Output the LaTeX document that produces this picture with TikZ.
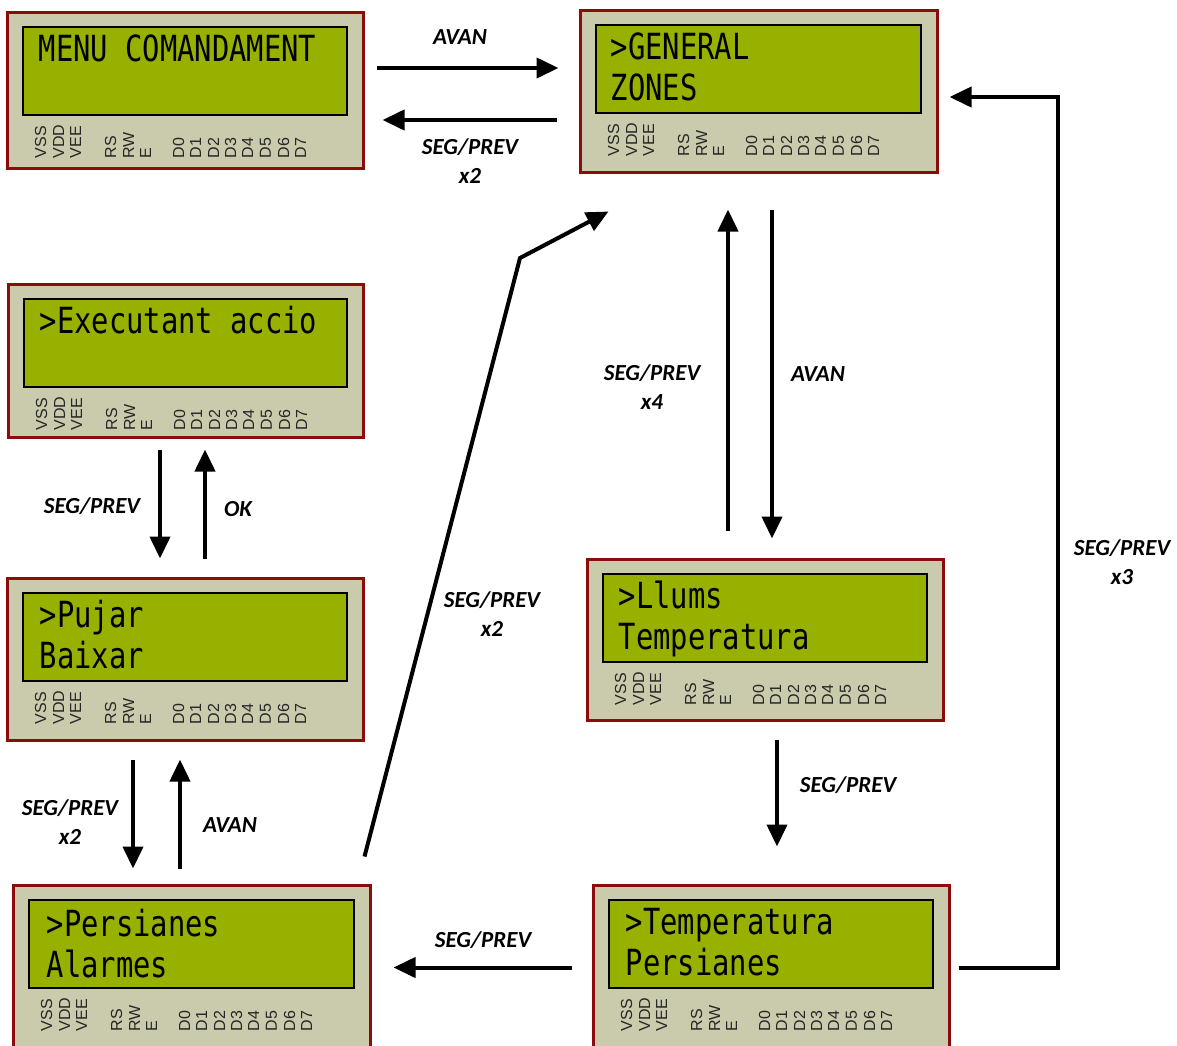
\documentclass[tikz,border=0pt]{standalone}
\usepackage{fontspec}
\setmainfont{Carlito}
\newfontfamily\lcdfont{DejaVu Sans Mono}[FakeStretch=0.8]
\newfontfamily\pinfont{Liberation Sans}
\usetikzlibrary{arrows.meta,calc}

\definecolor{lcdred}{RGB}{140,12,12}
\definecolor{lcdgray}{RGB}{202,202,172}
\definecolor{lcdgreen}{RGB}{152,176,0}

\tikzset{
  lcd/.style={draw=lcdred, line width=3pt, fill=lcdgray, rectangle, inner sep=0pt,
    minimum width=356pt, minimum height=#1},
  lcd/.default=160pt,
  lcdscreen/.style={draw=black, line width=2pt, fill=lcdgreen},
  lcdtext/.style={anchor=base west, inner sep=0pt, font=\lcdfont\fontsize{36}{36}\selectfont},
  pinlbl/.style={anchor=west, rotate=90, inner sep=0pt, text=black!85,
    font=\pinfont\fontsize{16}{16}\selectfont},
  arr/.style={line width=4pt, -{Triangle[length=22pt,width=20pt]}},
  lbl/.style={font=\bfseries\itshape\fontsize{23}{29}\selectfont, align=center, inner sep=0pt}
}

\begin{document}
\begin{tikzpicture}[x=1pt,y=-1pt]
  \clip (0,0) rectangle (1177,1045);

  % displays
  \node[lcd=156pt] (menu) at (185,90) {};
  \node[lcd=162pt, minimum width=357pt] (general) at (758.5,91) {};
  \node[lcd=153pt, minimum width=355pt] (exec) at (185.5,360.5) {};
  \node[lcd=162pt] (pujar) at (185,659) {};
  \node[lcd=161pt] (llums) at (765,639.5) {};
  \node[lcd=165pt, minimum width=357pt] (pers) at (191.5,967.5) {};
  \node[lcd=165pt] (temp) at (771,967.5) {};

  \foreach \p in {menu,general,exec,pujar,llums,pers,temp} {
    \draw[lcdscreen] ($(\p.north west)+(17,16)$) rectangle ($(\p.north east)+(-18,104)$);
    \foreach \x/\t in {35/VSS,53/VDD,70/VEE,105/RS,123/RW,140/E,173/D0,190/D1,
                       208/D2,225/D3,242/D4,260/D5,278/D6,295/D7}
      \node[pinlbl] (\p-\t) at ($(\p.north west)+(\x,148)$) {\t};
  }

  % screen texts
  \node[lcdtext] (menu-l1) at ($(menu.north west)+(33,51)$) {MENU COMANDAMENT};
  \node[lcdtext] (general-l1) at ($(general.north west)+(32,51)$) {>GENERAL};
  \node[lcdtext] (general-l2) at ($(general.north west)+(32,92)$) {ZONES};
  \node[lcdtext] (exec-l1) at ($(exec.north west)+(33,51)$) {>Executant accio};
  \node[lcdtext] (pujar-l1) at ($(pujar.north west)+(34,51)$) {>Pujar};
  \node[lcdtext] (pujar-l2) at ($(pujar.north west)+(34,92)$) {Baixar};
  \node[lcdtext] (llums-l1) at ($(llums.north west)+(33,51)$) {>Llums};
  \node[lcdtext] (llums-l2) at ($(llums.north west)+(33,92)$) {Temperatura};
  \node[lcdtext] (pers-l1) at ($(pers.north west)+(35,53)$) {>Persianes};
  \node[lcdtext] (pers-l2) at ($(pers.north west)+(35,94)$) {Alarmes};
  \node[lcdtext] (temp-l1) at ($(temp.north west)+(34,51)$) {>Temperatura};
  \node[lcdtext] (temp-l2) at ($(temp.north west)+(34,92)$) {Persianes};

  % transitions
  \coordinate (bend) at (520,258);
  \coordinate (rtop) at (1058,97);

  \draw[arr] ($(menu.east)+(12,-22)$) -- ($(general.west)+(-20,-23)$);
  \draw[arr] ($(general.west)+(-22,29)$) -- ($(menu.east)+(18,30)$);
  \draw[arr] ($(pers.north east)+(-7,-27)$) -- (bend) -- ($(general.south west)+(30,38)$);
  \draw[arr] ($(general.south)+(13.5,36)$) -- ($(llums.north)+(7,-19)$);
  \draw[arr] ($(llums.north)+(-37,-27)$) -- ($(general.south)+(-30.5,36)$);
  \draw[arr] ($(llums.south)+(12,18)$) -- ($(temp.north)+(6,-37)$);
  \draw[arr] ($(temp.west)+(-20,0)$) -- ($(pers.east)+(22,0)$);
  \draw[arr] ($(temp.east)+(8,0)$) -| (rtop) -- ($(general.east)+(11,6)$);
  \draw[arr] ($(exec.south)+(-25.5,11)$) -- ($(pujar.north)+(-25,-18)$);
  \draw[arr] ($(pujar.north)+(20,-18)$) -- ($(exec.south)+(19.5,11)$);
  \draw[arr] ($(pujar.south)+(-52,18)$) -- ($(pers.north)+(-58.5,-15)$);
  \draw[arr] ($(pers.north)+(-11.5,-15)$) -- ($(pujar.south)+(-5,18)$);

  % labels
  \node[lbl] (avan1) at (460,37) {AVAN};
  \node[lbl] (seg1) at (470,161) {SEG/PREV\\x2};
  \node[lbl] (seg2) at (492,614) {SEG/PREV\\x2};
  \node[lbl] (seg3) at (652,387) {SEG/PREV\\x4};
  \node[lbl] (avan2) at (818,374) {AVAN};
  \node[lbl] (seg4) at (848,785) {SEG/PREV};
  \node[lbl] (seg5) at (483,940) {SEG/PREV};
  \node[lbl] (seg6) at (1122,562) {SEG/PREV\\x3};
  \node[lbl] (seg7) at (92,506) {SEG/PREV};
  \node[lbl] (ok) at (238,509) {OK};
  \node[lbl] (seg8) at (70,822) {SEG/PREV\\x2};
  \node[lbl] (avan3) at (230,825) {AVAN};
\end{tikzpicture}
\end{document}
